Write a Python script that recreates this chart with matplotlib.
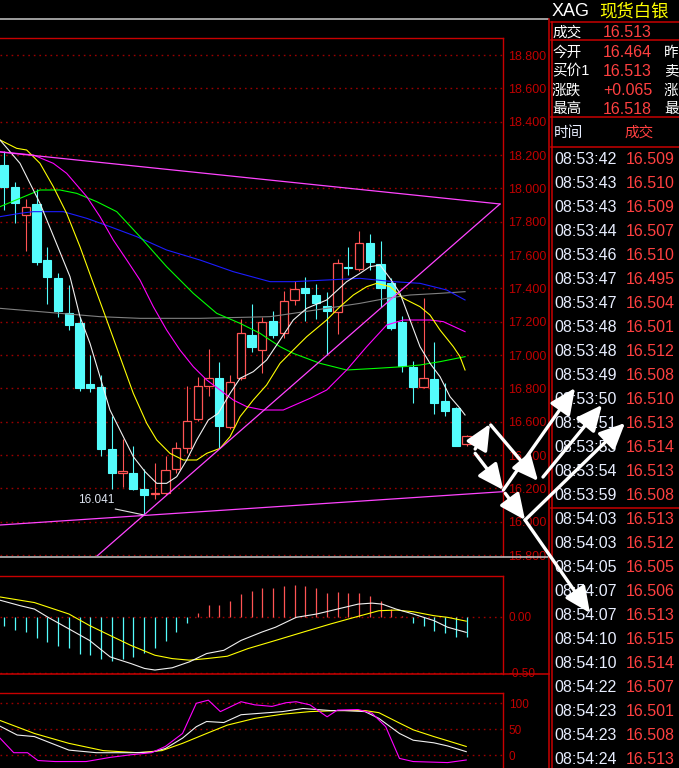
# -*- coding: utf-8 -*-
import matplotlib
matplotlib.use('Agg')
import matplotlib.pyplot as plt
from matplotlib.patches import Rectangle
from matplotlib.lines import Line2D

plt.rcParams['font.family'] = ['Liberation Sans', 'Noto Sans CJK SC']

# ---- K线 (XAG 现货白银) ----
opens = [18.14, 18.01, 17.842, 17.906, 17.57, 17.462, 17.254, 17.194, 16.826, 16.81,
         16.436, 16.294, 16.294, 16.198, 16.166, 16.174, 16.314, 16.44, 16.614, 16.816,
         16.864, 16.566, 16.86, 17.12, 17.03, 17.204, 17.134, 17.328, 17.404, 17.36,
         17.294, 17.256, 17.526, 17.518, 17.67, 17.546, 17.434, 17.2, 16.926, 16.81,
         16.856, 16.724, 16.68, 16.464]
highs = [18.226, 18.036, 17.936, 17.994, 17.65, 17.49, 17.42, 17.226, 17.0, 16.88,
         16.634, 16.494, 16.454, 16.314, 16.35, 16.394, 16.48, 16.814, 16.87, 17.036,
         16.96, 16.88, 17.214, 17.306, 17.226, 17.264, 17.384, 17.444, 17.466, 17.424,
         17.376, 17.574, 17.646, 17.744, 17.726, 17.684, 17.46, 17.234, 16.964, 17.344,
         17.08, 16.83, 16.69, 16.518]
lows = [17.87, 17.79, 17.626, 17.54, 17.306, 17.226, 17.15, 16.786, 16.776, 16.394,
        16.194, 16.21, 16.19, 16.041, 16.134, 16.16, 16.29, 16.414, 16.606, 16.756,
        16.44, 16.556, 16.85, 17.02, 16.89, 17.1, 17.1, 17.3, 17.206, 17.216,
        17.0, 17.124, 17.48, 17.506, 17.51, 17.29, 17.15, 16.9, 16.714, 16.8,
        16.644, 16.636, 16.456, 16.456]
closes = [18.006, 17.914, 17.886, 17.56, 17.47, 17.266, 17.182, 16.804, 16.804, 16.436,
          16.294, 16.306, 16.198, 16.16, 16.174, 16.31, 16.44, 16.604, 16.814, 16.86,
          16.576, 16.836, 17.13, 17.046, 17.2, 17.12, 17.324, 17.396, 17.374, 17.314,
          17.266, 17.55, 17.522, 17.67, 17.56, 17.404, 17.164, 16.936, 16.81, 16.86,
          16.714, 16.664, 16.456, 16.513]

# 均线 (位置, 价格) 从图上读出
ma5 = [(-0.4, 18.29), (1.46, 18.15), (3.32, 17.91), (4.72, 17.69), (6.11, 17.47), (7.04, 17.23),
       (7.97, 17.07), (8.9, 16.87), (9.83, 16.67), (11.07, 16.51), (12.0, 16.39), (13.09, 16.30),
       (14.18, 16.23), (15.1, 16.23), (16.04, 16.27), (16.97, 16.37), (17.9, 16.49), (18.98, 16.61),
       (19.9, 16.65), (21.0, 16.77), (21.93, 16.86), (23.16, 16.90), (24.4, 16.97), (25.65, 17.09),
       (26.88, 17.21), (28.13, 17.28), (29.99, 17.33), (31.85, 17.44), (33.09, 17.49), (34.02, 17.53),
       (34.95, 17.54), (35.88, 17.46), (36.81, 17.37), (37.74, 17.21), (38.67, 17.05), (39.6, 16.95),
       (40.53, 16.87), (41.46, 16.75), (42.39, 16.68), (42.86, 16.64)]
ma10 = [(-0.4, 18.29), (1.15, 18.24), (2.08, 18.23), (3.32, 18.15), (4.56, 18.01), (5.8, 17.85),
        (7.04, 17.65), (8.28, 17.43), (9.53, 17.21), (10.76, 16.99), (12.0, 16.77), (13.25, 16.59),
        (14.18, 16.49), (15.41, 16.41), (16.65, 16.37), (17.9, 16.37), (18.83, 16.41), (20.07, 16.44),
        (21.0, 16.51), (21.93, 16.63), (23.16, 16.73), (24.4, 16.82), (25.65, 16.95), (26.88, 17.03),
        (28.13, 17.11), (29.99, 17.21), (31.23, 17.29), (32.47, 17.36), (33.71, 17.41), (34.64, 17.43),
        (35.88, 17.41), (37.12, 17.34), (38.67, 17.29), (39.6, 17.24), (40.53, 17.15), (41.77, 17.05),
        (42.39, 16.99), (42.86, 16.91)]
ma20 = [(-0.4, 18.22), (2.7, 18.2), (4.56, 18.15), (5.8, 18.09), (7.67, 17.95), (8.9, 17.83),
        (10.14, 17.69), (11.39, 17.57), (12.62, 17.45), (13.86, 17.29), (15.1, 17.15), (16.34, 17.03),
        (17.58, 16.93), (18.83, 16.85), (20.07, 16.79), (21.3, 16.73), (22.55, 16.69), (24.09, 16.67),
        (25.95, 16.67), (28.44, 16.74), (29.99, 16.79), (31.85, 16.91), (33.71, 17.05), (35.57, 17.18),
        (37.12, 17.21), (39.6, 17.21), (40.84, 17.2), (42.86, 17.14)]
ma30 = [(-0.4, 17.89), (1.46, 17.94), (3.32, 17.99), (5.18, 17.99), (6.73, 17.97), (8.6, 17.92),
        (10.46, 17.86), (12.62, 17.71), (15.1, 17.53), (17.58, 17.37), (19.76, 17.25), (21.93, 17.19),
        (23.79, 17.13), (25.65, 17.05), (26.88, 17.01), (29.37, 16.95), (31.85, 16.91), (34.64, 16.92),
        (37.12, 16.93), (38.67, 16.94), (40.53, 16.96), (42.86, 16.99)]
ma60 = [(-0.4, 17.83), (1.46, 17.85), (2.7, 17.86), (5.49, 17.86), (7.67, 17.82), (9.83, 17.77),
        (12.32, 17.71), (15.1, 17.63), (18.2, 17.57), (21.3, 17.5), (24.72, 17.44), (26.88, 17.44),
        (29.99, 17.45), (33.09, 17.46), (36.19, 17.44), (38.67, 17.43), (41.15, 17.39), (42.86, 17.33)]
ma120 = [(-0.4, 17.28), (3.32, 17.26), (8.9, 17.23), (12.62, 17.22), (18.2, 17.22), (24.72, 17.23),
         (26.88, 17.25), (29.99, 17.28), (33.09, 17.31), (35.57, 17.34), (37.74, 17.36), (40.53, 17.37),
         (42.86, 17.38)]

# 画线 (趋势线)
trend_down = [(-0.4, 18.218), (46.11, 17.906)]
trend_up = [(8.63, 15.794), (46.11, 17.906)]
trend_flat = [(-0.4, 15.98), (46.39, 16.18)]

# 手绘箭头 (起点, 终点)
arrows = [((43.8, 16.436), (45.18, 16.586)),
          ((43.8, 16.41), (46.42, 16.19)),
          ((45.25, 16.58), (49.65, 16.244)),
          ((46.42, 16.19), (53.09, 16.802)),
          ((50.11, 16.268), (55.6, 16.70)),
          ((46.6, 16.17), (48.44, 16.01)),
          ((48.44, 16.01), (57.74, 16.592)),
          ((48.44, 16.01), (54.48, 15.452))]

# MACD
macd_hist = [-0.079, -0.115, -0.141, -0.191, -0.229, -0.265, -0.282, -0.335, -0.344, -0.379,
             -0.394, -0.379, -0.359, -0.324, -0.279, -0.218, -0.141, -0.059, 0.029, 0.1,
             0.106, 0.141, 0.206, 0.229, 0.256, 0.259, 0.274, 0.282, 0.274, 0.253,
             0.215, 0.221, 0.212, 0.212, 0.185, 0.141, 0.068, 0.005, -0.059, -0.079,
             -0.132, -0.147, -0.182, -0.182]
dif = [(-0.4, 0.147), (1.52, 0.097), (2.8, 0.068), (4.08, -0.006), (6.01, -0.109), (7.93, -0.212),
       (9.85, -0.359), (11.77, -0.418), (13.05, -0.462), (14.01, -0.476), (15.62, -0.456), (17.22, -0.403),
       (18.82, -0.329), (20.42, -0.3), (22.02, -0.212), (23.94, -0.138), (25.23, -0.094), (27.15, -0.006),
       (29.07, 0.024), (30.99, 0.068), (32.91, 0.112), (34.2, 0.121), (35.16, 0.112), (36.44, 0.068),
       (38.04, 0.024), (39.96, -0.035), (41.24, -0.094), (42.97, -0.14)]
dea = [(-0.4, 0.176), (2.8, 0.126), (6.01, 0.024), (7.93, -0.079), (9.85, -0.168), (11.77, -0.256),
       (14.01, -0.344), (15.62, -0.374), (17.22, -0.388), (18.82, -0.374), (20.74, -0.353), (22.66, -0.285),
       (25.23, -0.212), (27.79, -0.138), (30.35, -0.065), (32.91, 0.003), (34.84, 0.053), (36.44, 0.059),
       (38.04, 0.044), (39.96, 0.009), (41.24, -0.006), (42.97, -0.04)]

# KDJ
kdj_k = [(-0.4, 56), (1.2, 39), (2.8, 36), (4.4, 23), (6.01, 10), (8.57, 5), (11.77, 5), (13.69, 6),
         (14.98, 13), (16.58, 33), (17.86, 55), (18.82, 65), (20.42, 63), (22.02, 78), (23.94, 81),
         (25.87, 84), (27.79, 90), (29.07, 88), (30.35, 86), (31.63, 86), (33.55, 84), (34.84, 71),
         (36.76, 42), (38.04, 29), (39.96, 24), (41.24, 18), (42.97, 7)]
kdj_d = [(-0.4, 67), (2.8, 42), (6.01, 23), (9.21, 9), (12.41, 5), (14.66, 9), (16.58, 23), (18.82, 42),
         (20.74, 58), (23.3, 71), (25.87, 79), (28.43, 84), (30.99, 86), (33.55, 86), (34.84, 82),
         (36.76, 62), (38.04, 49), (39.96, 36), (41.24, 28), (42.97, 17)]
kdj_j = [(-0.4, 33), (0.88, 5), (2.16, 5), (3.12, -10), (4.73, -12), (7.61, -12), (9.85, -4), (11.77, 1),
         (13.69, 5), (14.98, 17), (16.58, 42), (17.86, 100), (18.98, 106), (20.1, 84), (22.02, 103),
         (23.3, 97), (24.9, 94), (26.19, 101), (27.15, 103), (28.43, 97), (30.03, 74), (30.99, 87),
         (32.91, 88), (34.2, 81), (35.48, 55), (36.76, -6), (38.04, -12), (41.24, -14), (42.97, -9)]

# 右侧报价
quote_labels = ['成交', '今开', '买价1', '涨跌', '最高']
quote_values = ['16.513', '16.464', '16.513', '+0.065', '16.518']
quote_side = ['', '昨', '卖', '涨', '最']
tick_times = ['08:53:42', '08:53:43', '08:53:43', '08:53:44', '08:53:46', '08:53:47', '08:53:47',
              '08:53:48', '08:53:48', '08:53:49', '08:53:50', '08:53:51', '08:53:53', '08:53:54',
              '08:53:59', '08:54:03', '08:54:03', '08:54:05', '08:54:07', '08:54:07', '08:54:10',
              '08:54:10', '08:54:22', '08:54:23', '08:54:23', '08:54:24']
tick_prices = ['16.509', '16.510', '16.509', '16.507', '16.510', '16.495', '16.504', '16.501',
               '16.512', '16.508', '16.510', '16.513', '16.514', '16.513', '16.508', '16.513',
               '16.512', '16.505', '16.506', '16.513', '16.515', '16.514', '16.507', '16.501',
               '16.508', '16.513']
price_ticks = [15.8 + 0.2 * k for k in range(16)]

BORDER = '#c80000'
GRID = '#9a0000'
AXTXT = '#c00000'
UP = '#ff5454'
DOWN = '#54fcfc'

W, H = 679, 768
fig = plt.figure(figsize=(W / 100, H / 100), dpi=100, facecolor='black')


def fx(px):
    return px / W


def fy(py):
    return 1 - py / H


def style_axes(ax, ticks, labels, size):
    ax.set_facecolor('black')
    for s in ['left', 'bottom']:
        ax.spines[s].set_visible(False)
    for s in ['top', 'right']:
        ax.spines[s].set_color(BORDER)
        ax.spines[s].set_linewidth(1)
    ax.set_xticks([])
    ax.yaxis.tick_right()
    ax.set_yticks(ticks)
    ax.set_yticklabels(labels)
    ax.tick_params(axis='y', length=0, pad=4, labelcolor=AXTXT, labelsize=size)
    ax.grid(axis='y', color=GRID, linestyle=(0, (1.2, 2.8)), linewidth=1)
    ax.set_xlim(-0.4, 46.39)


def xy(points):
    return [p[0] for p in points], [p[1] for p in points]


# ---- 主图 ----
ax = fig.add_axes([0, fy(556), fx(503), (556 - 38) / H])
style_axes(ax, price_ticks, ['%.3f' % t for t in price_ticks], 9)
ax.set_ylim(15.794, 18.902)

for i in range(len(opens)):
    o, h, l, c = opens[i], highs[i], lows[i], closes[i]
    if c >= o:
        ax.vlines(i, l, o, color=UP, lw=0.8, zorder=2)
        ax.vlines(i, c, h, color=UP, lw=0.8, zorder=2)
        ax.add_patch(Rectangle((i - 0.39, o), 0.78, c - o, facecolor='black',
                               edgecolor=UP, lw=0.9, zorder=2))
    else:
        ax.vlines(i, l, h, color=DOWN, lw=0.8, zorder=2)
        ax.add_patch(Rectangle((i - 0.39, c), 0.78, o - c, facecolor=DOWN,
                               edgecolor=DOWN, lw=0.8, zorder=2))

for line, col in [(ma120, '#808080'), (ma60, '#1c1cff'), (ma30, '#00ff00'),
                  (ma20, '#ff00ff'), (ma10, '#ffff00'), (ma5, '#f0f0f0')]:
    ax.plot(*xy(line), color=col, lw=0.8, zorder=3)

for line in [trend_down, trend_up, trend_flat]:
    ax.plot(*xy(line), color='#ff44ff', lw=0.9, zorder=3)

# 最低价标注
low_i = lows.index(min(lows))
ax.plot([low_i - 2.67, low_i - 0.07], [min(lows) + 0.035, min(lows)], color='#e0e0e0', lw=0.8, zorder=3)
ax.text(low_i - 2.8, min(lows) + 0.09, '%.3f' % min(lows), color='#dde4f0', fontsize=8.5,
        ha='right', va='center', zorder=4)

# ---- MACD ----
ax2 = fig.add_axes([0, fy(673.5), fx(503), (673.5 - 576) / H])
style_axes(ax2, [0, -0.5], ['0.00', '-0.50'], 8.5)
ax2.set_ylim(-0.507, 0.363)
for i, v in enumerate(macd_hist):
    ax2.vlines(i, 0, v, color=UP if v > 0 else DOWN, lw=0.9, zorder=2)
ax2.plot(*xy(dea), color='#ffff00', lw=0.8, zorder=3)
ax2.plot(*xy(dif), color='#f0f0f0', lw=0.8, zorder=3)

# ---- KDJ ----
ax3 = fig.add_axes([0, 0, fx(503), (768 - 693.3) / H])
style_axes(ax3, [0, 50, 100], ['0', '50', '100'], 8.5)
ax3.set_ylim(-24.4, 119.2)
ax3.plot(*xy(kdj_d), color='#ffff00', lw=0.8, zorder=3)
ax3.plot(*xy(kdj_k), color='#f0f0f0', lw=0.8, zorder=3)
ax3.plot(*xy(kdj_j), color='#ff00ff', lw=0.8, zorder=3)

# ---- 框线 ----
frame = [([0, 548], [19, 19], '#c8c8c8'), ([0, 550], [557, 557], '#c8c8c8'),
         ([0, 549], [674, 674], BORDER),
         ([548.5, 548.5], [19, 768], BORDER), ([551.5, 551.5], [22, 768], BORDER),
         ([551, 679], [22.3, 22.3], BORDER), ([551, 679], [40, 40], BORDER),
         ([551, 679], [116.7, 116.7], BORDER), ([551, 679], [147.3, 147.3], BORDER),
         ([551, 679], [508.3, 508.3], BORDER)]
for xs, ys, col in frame:
    fig.add_artist(Line2D([fx(v) for v in xs], [fy(v) for v in ys], color=col, lw=1.1,
                          transform=fig.transFigure))

# ---- 右侧报价 ----
fig.text(fx(552), fy(11.5), 'XAG', color='white', fontsize=13, va='center')
fig.text(fx(599), fy(11.5), '现货白银', color='#ffff00', fontsize=12.5, va='center')
row_y = [32.5, 52.5, 71.5, 90.5, 109.5]
for k in range(len(quote_labels)):
    fig.text(fx(552), fy(row_y[k]), quote_labels[k], color='white', fontsize=10.5, va='center')
    fig.text(fx(603), fy(row_y[k]), quote_values[k], color='#ff4040', fontsize=11.5, va='center')
    fig.text(fx(664), fy(row_y[k]), quote_side[k], color='white', fontsize=10.5, va='center')
fig.text(fx(554), fy(132.5), '时间', color='#e8eeff', fontsize=10.5, va='center')
fig.text(fx(624), fy(132.5), '成交', color='#ff4040', fontsize=10.5, va='center')
for k in range(len(tick_times)):
    fig.text(fx(554), fy(159.5 + 24 * k), tick_times[k], color='#e8eeff', fontsize=11.5, va='center')
    fig.text(fx(626), fy(159.5 + 24 * k), tick_prices[k], color='#ff4040', fontsize=11.5, va='center')

# ---- 手绘箭头 (覆盖在最上层) ----
over = fig.add_axes([0, 0, 1, 1])
over.axis('off')
over.set_zorder(10)
for start, end in arrows:
    over.annotate('', xy=end, xytext=start, xycoords=ax.transData, textcoords=ax.transData,
                  annotation_clip=False,
                  arrowprops=dict(arrowstyle='-|>,head_length=1.3,head_width=0.6',
                                  color='white', lw=2.4, mutation_scale=12,
                                  shrinkA=0, shrinkB=0))

fig.savefig('out.png', dpi=100, facecolor='black')
